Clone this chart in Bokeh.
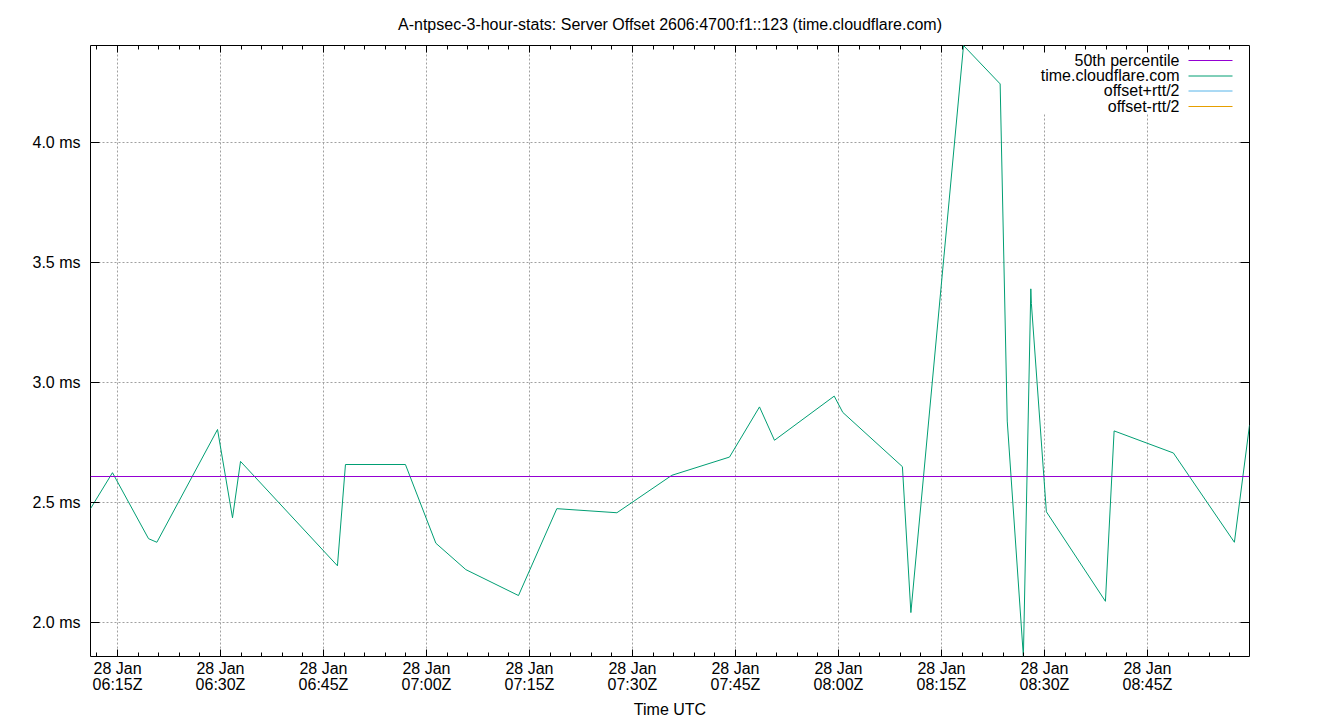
import pandas as pd
from bokeh.plotting import figure
from bokeh.models import (Range1d, LinearAxis, FixedTicker, Span, Label, Arrow,
                          BoxAnnotation)
from bokeh.embed import file_html
from bokeh.resources import INLINE

# ---------------- data ----------------
DATE = "2025-01-28"
times = ["06:11:04", "06:14:16", "06:19:31", "06:20:44", "06:29:34", "06:31:45",
         "06:32:55", "06:47:02", "06:48:12", "06:56:56", "07:01:22", "07:05:44",
         "07:13:24", "07:18:59", "07:27:44", "07:35:44", "07:44:08", "07:48:30",
         "07:50:41", "07:59:23", "08:00:38", "08:09:19", "08:10:33", "08:18:13",
         "08:23:33", "08:24:35", "08:26:56", "08:28:01", "08:28:06", "08:30:17",
         "08:38:53", "08:40:09", "08:48:47", "08:57:40", "08:59:52"]
offset_ms = [2.475, 2.625, 2.350, 2.335, 2.805, 2.437,
             2.672, 2.237, 2.659, 2.659, 2.331, 2.221,
             2.113, 2.475, 2.458, 2.614, 2.690, 2.899,
             2.760, 2.944, 2.876, 2.650, 2.042, 4.405,
             4.245, 2.840, 1.859, 3.391, 3.330, 2.462,
             2.089, 2.799, 2.707, 2.335, 2.823]
p50_ms = 2.609

major_tick_times = ["06:15", "06:30", "06:45", "07:00", "07:15", "07:30",
                    "07:45", "08:00", "08:15", "08:30", "08:45"]
major_tick_labels = ["28 Jan\n" + t + "Z" for t in major_tick_times]
y_ticks = [2.0, 2.5, 3.0, 3.5, 4.0]
y_tick_labels = ["2.0 ms", "2.5 ms", "3.0 ms", "3.5 ms", "4.0 ms"]

series_names = ["50th percentile", "time.cloudflare.com", "offset+rtt/2", "offset-rtt/2"]
series_colors = ["#9400D3", "#009E73", "#56B4E9", "#E69F00"]

title_text = "A-ntpsec-3-hour-stats: Server Offset 2606:4700:f1::123 (time.cloudflare.com)"
x_label = "Time UTC"

# ---------------- helpers ----------------
def ms(t):
    return float(pd.Timestamp(DATE + " " + t).value // 10**6)

x = [ms(t) for t in times]
major = [ms(t) for t in major_tick_times]
minor = [float(v.value // 10**6) for v in
         pd.date_range(DATE + " 06:00", DATE + " 09:00", freq="3min")]

FONT = "Liberation Sans"
FS = "16px"

FW, FH = 1159, 611  # frame size in px

p = figure(width=1340, height=720, output_backend="svg", toolbar_location=None,
           x_range=Range1d(min(x), max(x)), y_range=Range1d(min(offset_ms), max(offset_ms)),
           min_border_left=90, min_border_right=91, min_border_top=45, min_border_bottom=64,
           title=title_text)
p.background_fill_color = "white"
p.border_fill_color = "white"
p.outline_line_color = "black"
p.outline_line_width = 1

p.title.align = "center"
p.title.text_font = FONT
p.title.text_font_size = FS
p.title.text_font_style = "normal"
p.title.text_color = "black"
p.title.standoff = 26

# grid
p.xgrid.ticker = FixedTicker(ticks=major)
p.ygrid.ticker = FixedTicker(ticks=y_ticks)
for g in (p.xgrid, p.ygrid):
    g.grid_line_color = "#a0a0a0"
    g.grid_line_dash = "2 2"
    g.grid_line_width = 1

# bottom axis
xa = p.xaxis[0]
xa.ticker = FixedTicker(ticks=major, minor_ticks=minor)
xa.major_label_overrides = {m: l for m, l in zip(major, major_tick_labels)}
xa.major_tick_in = 7
xa.major_tick_out = 0
xa.minor_tick_in = 4
xa.minor_tick_out = 0
xa.axis_line_color = None
xa.major_label_standoff = 3
xa.major_label_text_font = FONT
xa.major_label_text_font_size = FS
xa.major_label_text_line_height = 0.95
xa.major_label_text_color = "black"
xa.axis_label = x_label
xa.axis_label_text_font = FONT
xa.axis_label_text_font_size = FS
xa.axis_label_text_font_style = "normal"
xa.axis_label_text_color = "black"
xa.axis_label_standoff = 5

# left axis
ya = p.yaxis[0]
ya.ticker = FixedTicker(ticks=y_ticks)
ya.major_label_overrides = {v: l for v, l in zip(y_ticks, y_tick_labels)}
ya.major_tick_in = 9
ya.major_tick_out = 0
ya.minor_tick_line_color = None
ya.axis_line_color = None
ya.major_label_standoff = 10
ya.major_label_text_font = FONT
ya.major_label_text_font_size = FS
ya.major_label_text_color = "black"

# mirrored ticks (top / right)
top = LinearAxis(ticker=FixedTicker(ticks=major, minor_ticks=minor),
                 major_label_overrides={m: "" for m in major},
                 major_label_text_font_size="0px", major_label_standoff=0,
                 major_tick_in=7, major_tick_out=0, minor_tick_in=4, minor_tick_out=0,
                 axis_line_color=None)
p.add_layout(top, "above")
right = LinearAxis(ticker=FixedTicker(ticks=y_ticks),
                   major_label_overrides={v: "" for v in y_ticks},
                   major_label_text_font_size="0px", major_label_standoff=0,
                   major_tick_in=9, major_tick_out=0, minor_tick_line_color=None,
                   axis_line_color=None)
p.add_layout(right, "right")

# legend background (hides grid behind legend)
p.add_layout(BoxAnnotation(left=940, right=1158, top=609, bottom=543,
                           left_units="screen", right_units="screen",
                           top_units="screen", bottom_units="screen",
                           fill_color="white", fill_alpha=1.0, line_color=None,
                           level="underlay"))

# data
p.add_layout(Span(location=p50_ms, dimension="width", line_color=series_colors[0],
                  line_width=1.2))
p.line(x, offset_ms, line_color=series_colors[1], line_width=1)

# legend (text left of sample, gnuplot style)
row_y = [FH - 14.5, FH - 30, FH - 45, FH - 60.5]
for name, col, yy in zip(series_names, series_colors, row_y):
    p.add_layout(Label(x=1089, y=yy, x_units="screen", y_units="screen", text=name,
                       text_align="right", text_baseline="middle",
                       text_font=FONT, text_font_size=FS, text_color="black"))
    p.add_layout(Arrow(end=None, x_start=1098, y_start=yy - 0.5, x_end=1142, y_end=yy - 0.5,
                       start_units="screen", end_units="screen",
                       line_color=col, line_width=1))

open("out.html", "w").write(file_html(p, INLINE))
